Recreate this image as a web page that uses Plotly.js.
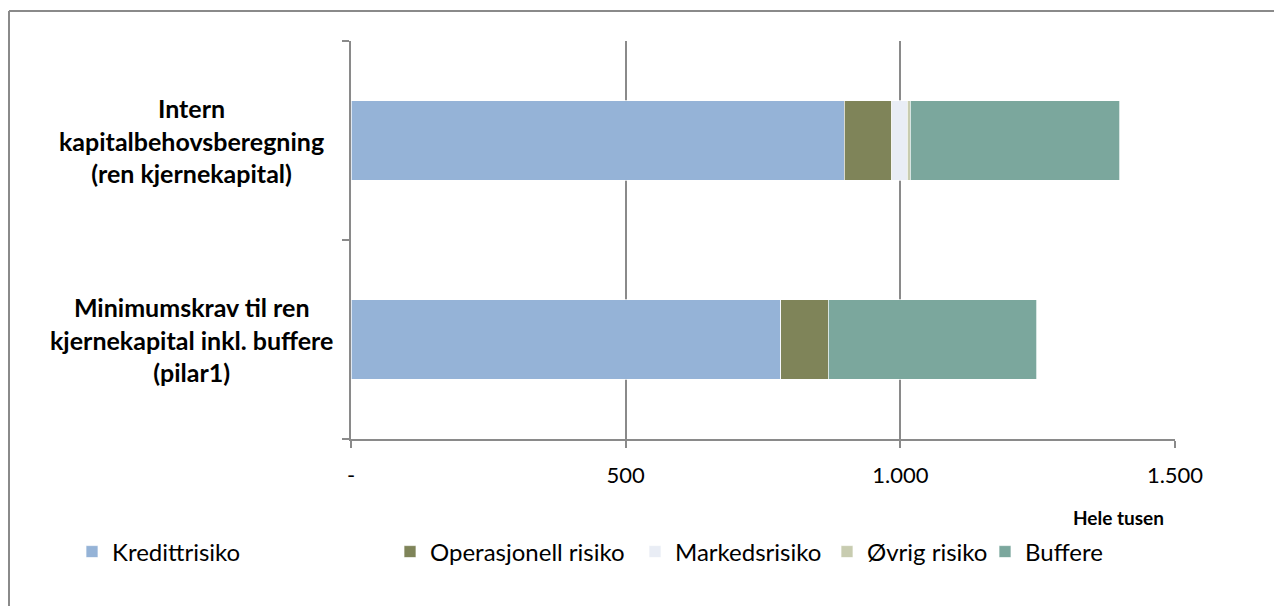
<!DOCTYPE html>
<html>
<head>
<meta charset="utf-8">
<script src="https://cdn.plot.ly/plotly-3.0.1.min.js"></script>
<style>
html, body { margin: 0; padding: 0; background: #fff; }
#chart { width: 1274px; height: 606px; }
</style>
</head>
<body>
<div id="chart"></div>
<script>
// Categories (bottom to top)
const categories = ['Minimumskrav til ren kjernekapital inkl. buffere (pilar1)', 'Intern kapitalbehovsberegning (ren kjernekapital)'];
const categoryLabels = ['Minimumskrav til ren<br>kjernekapital inkl. buffere<br>(pilar1)', 'Intern<br>kapitalbehovsberegning<br>(ren kjernekapital)'];

// Series values (hele tusen)
const kredittrisiko = [782, 898];
const operasjonellRisiko = [87, 86];
const markedsrisiko = [0, 29];
const ovrigRisiko = [0, 5];
const buffere = [379, 381];

const seriesNames = ['Kredittrisiko', 'Operasjonell risiko', 'Markedsrisiko', 'Øvrig risiko', 'Buffere'];
const seriesValues = [kredittrisiko, operasjonellRisiko, markedsrisiko, ovrigRisiko, buffere];
const seriesColors = ['#95B3D7', '#7F8459', '#E9EDF5', '#C8CCB0', '#7BA79D'];

const tickValues = [0, 500, 1000, 1500];
const tickLabels = ['-', '500', '1.000', '1.500'];
const xAxisTitle = 'Hele tusen';

const FONT = 'Lato, "Open Sans", sans-serif';

// legend text left positions in pixels (Excel-style irregular spacing)
const legendPx = [72, 390, 635, 827, 985];
const plotLeft = 351, plotRight = 1175, plotTop = 41, plotBottom = 439;
const pw = plotRight - plotLeft, ph = plotBottom - plotTop;

const traces = seriesNames.map((name, i) => ({
  type: 'bar',
  orientation: 'h',
  name: name,
  y: categories,
  x: seriesValues[i],
  marker: { color: seriesColors[i], line: { color: 'rgba(255,255,255,0.7)', width: 1 } },
  legend: i === 0 ? 'legend' : 'legend' + (i + 1),
  hoverinfo: 'x+name'
}));

const layout = {
  width: 1274,
  height: 606,
  paper_bgcolor: '#ffffff',
  plot_bgcolor: '#ffffff',
  font: { family: FONT, size: 18, color: '#000000' },
  barmode: 'stack',
  bargap: 0.6,
  margin: { l: plotLeft, r: 1274 - plotRight, t: plotTop, b: 606 - plotBottom, pad: 0 },
  xaxis: {
    range: [0, 1500],
    tickvals: tickValues,
    ticktext: tickLabels,
    showgrid: true,
    gridcolor: '#8A8A8A',
    gridwidth: 2,
    zeroline: false,
    showline: true,
    linecolor: '#8A8A8A',
    linewidth: 2,
    ticks: 'outside',
    ticklen: 7,
    tickwidth: 2,
    tickcolor: '#8A8A8A',
    ticklabelstandoff: 9,
    tickfont: { family: FONT, size: 22, color: '#000' },
    fixedrange: true
  },
  yaxis: {
    type: 'category',
    categoryorder: 'array',
    categoryarray: categories,
    range: [-0.5, 1.5],
    tickson: 'boundaries',
    ticks: 'outside',
    ticklen: 7,
    tickwidth: 2,
    tickcolor: '#8A8A8A',
    showticklabels: false,
    showgrid: false,
    showline: true,
    linecolor: '#8A8A8A',
    linewidth: 2,
    zeroline: false,
    fixedrange: true
  },
  annotations: [
    ...categories.map((c, i) => ({
      xref: 'paper', yref: 'y',
      x: (191 - plotLeft) / pw, y: c,
      xanchor: 'center', yanchor: 'middle',
      text: '<b>' + categoryLabels[i] + '</b>',
      align: 'center',
      showarrow: false,
      font: { family: FONT, size: 25, color: '#000' }
    })),
    {
      xref: 'paper', yref: 'paper',
      x: (1166 - plotLeft) / pw, y: (plotBottom - 517) / ph,
      xanchor: 'right', yanchor: 'middle',
      text: '<b>' + xAxisTitle + '</b>',
      showarrow: false,
      font: { family: FONT, size: 19, color: '#000' }
    }
  ],
  shapes: [
    { type: 'line', xref: 'paper', yref: 'paper',
      x0: (9 - plotLeft) / pw, x1: (9 - plotLeft) / pw,
      y0: (plotBottom - 11) / ph, y1: (plotBottom - 620) / ph,
      line: { color: '#8A8A8A', width: 2 } },
    { type: 'line', xref: 'paper', yref: 'paper',
      x0: (9 - plotLeft) / pw, x1: (1290 - plotLeft) / pw,
      y0: (plotBottom - 11) / ph, y1: (plotBottom - 11) / ph,
      line: { color: '#8A8A8A', width: 2 } }
  ],
  showlegend: true
};

legendPx.forEach((px, i) => {
  const key = i === 0 ? 'legend' : 'legend' + (i + 1);
  layout[key] = {
    x: (px - plotLeft) / pw,
    xanchor: 'left',
    y: (plotBottom - 552) / ph,
    yanchor: 'middle',
    orientation: 'h',
    bgcolor: 'rgba(0,0,0,0)',
    borderwidth: 0,
    font: { family: FONT, size: 24, color: '#000' },
    itemclick: false,
    itemdoubleclick: false
  };
});

Plotly.newPlot('chart', traces, layout, { displayModeBar: false, staticPlot: false });
</script>
</body>
</html>
